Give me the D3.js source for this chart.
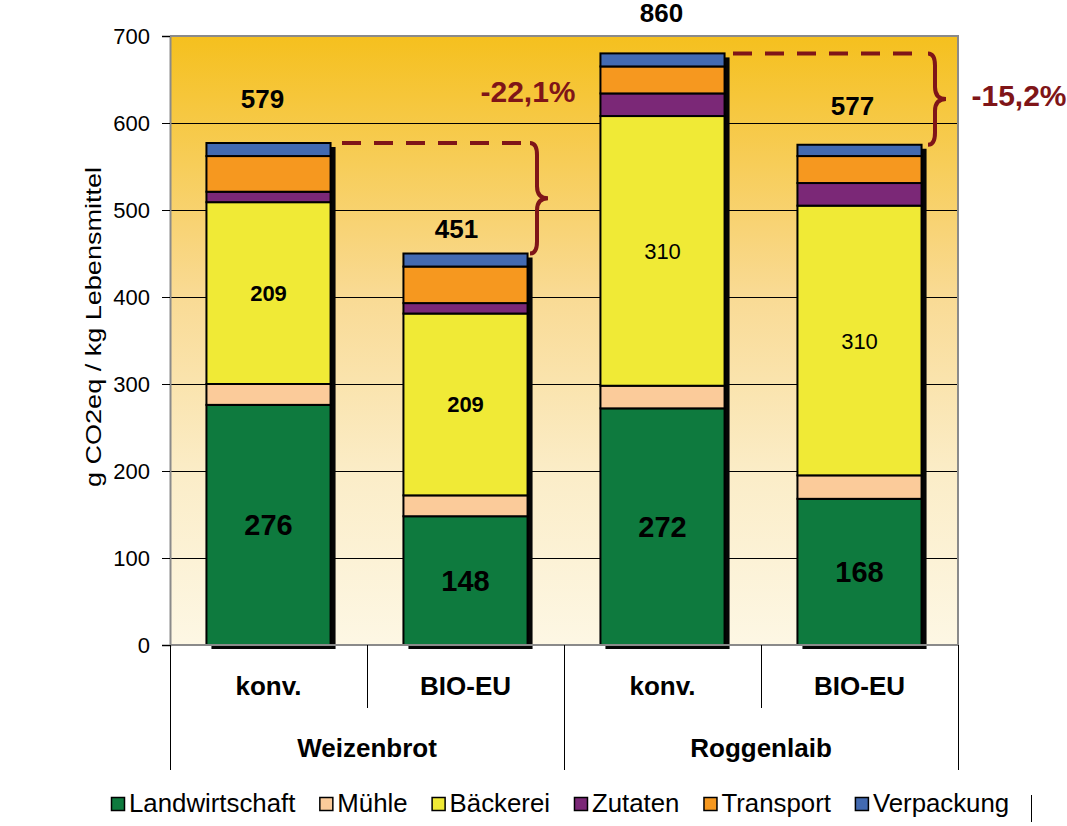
<!DOCTYPE html>
<html><head><meta charset="utf-8">
<script src="https://cdn.jsdelivr.net/npm/d3@7/dist/d3.min.js"></script>
<style>body{margin:0;background:#fff}svg{display:block;font-family:"Liberation Sans",Arial,sans-serif}</style>
</head><body><svg id="c" width="1067" height="826"></svg>
<script>
const categories = ["konv.", "BIO-EU", "konv.", "BIO-EU"];
const groups = ["Weizenbrot", "Roggenlaib"];
const seriesNames = ["Landwirtschaft", "Mühle", "Bäckerei", "Zutaten", "Transport", "Verpackung"];
const landwirtschaft = [276, 148, 272, 168];
const muehle = [24, 24, 26, 27];
const baeckerei = [209, 209, 310, 310];
const zutaten = [12, 12, 26, 26];
const transport = [41, 42, 31, 31];
const verpackung = [15, 15, 15, 13];
const totalLabels = ["579", "451", "860", "577"];
const landLabels = ["276", "148", "272", "168"];
const baeckLabels = ["209", "209", "310", "310"];
const changeLabels = ["-22,1%", "-15,2%"];
const yTicks = [0, 100, 200, 300, 400, 500, 600, 700];
const colors = ["#0E7A3E", "#FBCB9A", "#F0EA36", "#7B2877", "#F6981F", "#436AB1"];

// layout constants
const L = 170, R = 958, T = 36, B = 645;
const totalLabelDy = [-35, -16, -31, -30];
const totalLabelDx = [-6, -9, -1, -7];

const svg = d3.select("#c");
const defs = svg.append("defs");
const grad = defs.append("linearGradient").attr("id", "bg").attr("x1", 0).attr("y1", 0).attr("x2", 0).attr("y2", 1);
grad.append("stop").attr("offset", "0%").attr("stop-color", "#F5C01E");
grad.append("stop").attr("offset", "42%").attr("stop-color", "#F9DA93");
grad.append("stop").attr("offset", "72%").attr("stop-color", "#FBEDC8");
grad.append("stop").attr("offset", "100%").attr("stop-color", "#FDF7E4");

const x = d3.scaleBand().domain(d3.range(categories.length)).range([L, R]).paddingInner(0.37).paddingOuter(0.185);
const step = x.step();
const y = d3.scaleLinear().domain([0, 700]).range([B, T]);

svg.append("rect").attr("x", L).attr("y", T).attr("width", R - L).attr("height", B - T).attr("fill", "url(#bg)");

// gridlines
svg.append("g").selectAll("line").data(yTicks.filter(v => v > 0 && v < 700)).join("line")
  .attr("x1", L).attr("x2", R).attr("y1", d => Math.round(y(d)) + 0.5).attr("y2", d => Math.round(y(d)) + 0.5)
  .attr("stroke", "#000").attr("stroke-width", 1);

// plot border
svg.append("path").attr("d", `M${L},${T}H${R}V${B}`).attr("fill", "none").attr("stroke", "#8a8a8a").attr("stroke-width", 2);

// stacked data
const seriesArrays = [landwirtschaft, muehle, baeckerei, zutaten, transport, verpackung];
const table = categories.map((c, i) => {
  const o = { i };
  seriesNames.forEach((s, k) => o[s] = seriesArrays[k][i]);
  return o;
});
const stacked = d3.stack().keys(seriesNames)(table);
const totals = table.map((d, i) => d3.sum(seriesArrays, a => a[i]));

// shadows
svg.append("g").selectAll("rect").data(table).join("rect")
  .attr("x", d => x(d.i) + 5).attr("y", d => y(totals[d.i]) + 4)
  .attr("width", x.bandwidth()).attr("height", d => B - y(totals[d.i]))
  .attr("fill", "#050505");

// segments
const gS = svg.append("g");
stacked.forEach((layer, k) => {
  gS.selectAll(null).data(layer).join("rect")
    .attr("x", (d, i) => x(i)).attr("y", d => y(d[1]))
    .attr("width", x.bandwidth()).attr("height", d => y(d[0]) - y(d[1]))
    .attr("fill", colors[k]).attr("stroke", "#000").attr("stroke-width", 2);
});

// segment labels
svg.append("g").selectAll("text").data(stacked[0]).join("text")
  .attr("x", (d, i) => x(i) + x.bandwidth() / 2).attr("y", d => (y(d[0]) + y(d[1])) / 2 + 10)
  .attr("text-anchor", "middle").attr("font-size", 29).attr("font-weight", "bold").attr("fill", "#000")
  .text((d, i) => landLabels[i]);
svg.append("g").selectAll("text").data(stacked[2]).join("text")
  .attr("x", (d, i) => x(i) + x.bandwidth() / 2).attr("y", d => (y(d[0]) + y(d[1])) / 2 + 8)
  .attr("text-anchor", "middle").attr("font-size", 22)
  .attr("font-weight", (d, i) => i < 2 ? "bold" : "normal").attr("fill", "#000")
  .text((d, i) => baeckLabels[i]);

// total labels
svg.append("g").selectAll("text").data(totals).join("text")
  .attr("x", (d, i) => x(i) + x.bandwidth() / 2 + totalLabelDx[i]).attr("y", (d, i) => y(d) + totalLabelDy[i])
  .attr("text-anchor", "middle").attr("font-size", 26).attr("font-weight", "bold").attr("fill", "#000")
  .text((d, i) => totalLabels[i]);

// y axis
const yAxis = d3.axisLeft(y).tickValues(yTicks).tickSize(8).tickPadding(12).tickFormat(d3.format("d"));
const gy = svg.append("g").attr("transform", `translate(${L},0)`).call(yAxis);
gy.select(".domain").attr("stroke", "#8a8a8a").attr("stroke-width", 2);
gy.selectAll(".tick line").attr("stroke", "#000");
gy.selectAll(".tick text").attr("font-size", 22).attr("fill", "#000").attr("font-family", "Liberation Sans, Arial, sans-serif");

svg.append("text").attr("transform", "translate(101,327) rotate(-90)").attr("text-anchor", "middle")
  .attr("font-size", 22).attr("textLength", 320).attr("lengthAdjust", "spacingAndGlyphs")
  .text("g CO2eq / kg Lebensmittel");

// bottom axis line
svg.append("line").attr("x1", L).attr("x2", R).attr("y1", B).attr("y2", B).attr("stroke", "#8a8a8a").attr("stroke-width", 2);

// x category separators
const bounds = d3.range(categories.length + 1).map(i => L + i * step);
svg.append("g").selectAll("line").data(bounds).join("line")
  .attr("x1", d => Math.round(d) + 0.5).attr("x2", d => Math.round(d) + 0.5)
  .attr("y1", B).attr("y2", (d, i) => i % 2 === 0 ? 770 : 708)
  .attr("stroke", "#000").attr("stroke-width", 1);

svg.append("g").selectAll("text").data(categories).join("text")
  .attr("x", (d, i) => L + (i + 0.5) * step).attr("y", 695)
  .attr("text-anchor", "middle").attr("font-size", 26).attr("font-weight", "bold").text(d => d);

svg.append("g").selectAll("text").data(groups).join("text")
  .attr("x", (d, i) => L + (i * 2 + 1) * step).attr("y", 757)
  .attr("text-anchor", "middle").attr("font-size", 26).attr("font-weight", "bold").text(d => d);

// annotations
const red = "#7F1518";
function brace(x0, yT, yB) {
  const xm = x0 + 7, xt = x0 + 18, ym = (yT + yB) / 2, r = 12;
  return `M${x0},${yT} Q${xm},${yT} ${xm},${yT + r} L${xm},${ym - r} Q${xm},${ym} ${xt},${ym} Q${xm},${ym} ${xm},${ym + r} L${xm},${yB - r} Q${xm},${yB} ${x0},${yB}`;
}
const ann = [
  { from: 0, to: 1, x0: 342, bx: 530, lx: 528, ly: 102 },
  { from: 2, to: 3, x0: 733, bx: 928, lx: 1019, ly: 106 }
];
ann.forEach((a, k) => {
  const yT = y(totals[a.from]), yB = y(totals[a.to]);
  svg.append("line").attr("x1", a.x0).attr("x2", a.bx - 4).attr("y1", yT).attr("y2", yT)
    .attr("stroke", red).attr("stroke-width", 4).attr("stroke-dasharray", "19,13");
  svg.append("path").attr("d", brace(a.bx, yT, yB)).attr("fill", "none").attr("stroke", red).attr("stroke-width", 4);
  svg.append("text").attr("x", a.lx).attr("y", a.ly).attr("text-anchor", "middle").attr("font-size", 30)
    .attr("font-weight", "bold").attr("fill", red).text(changeLabels[k]);
});

// legend
const lg = svg.append("g");
let lx = 111;
seriesNames.forEach((s, k) => {
  lg.append("rect").attr("x", lx + 0.5).attr("y", 797.5).attr("width", 13).attr("height", 13)
    .attr("fill", colors[k]).attr("stroke", "#000").attr("stroke-width", 1.5);
  const t = lg.append("text").attr("x", lx + 18).attr("y", 812).attr("font-size", 25.8).attr("fill", "#000").text(s);
  lx += 18 + t.node().getComputedTextLength() + 24;
});
svg.append("line").attr("x1", 1031.5).attr("x2", 1031.5).attr("y1", 795).attr("y2", 822).attr("stroke", "#000").attr("stroke-width", 1);
</script></body></html>
